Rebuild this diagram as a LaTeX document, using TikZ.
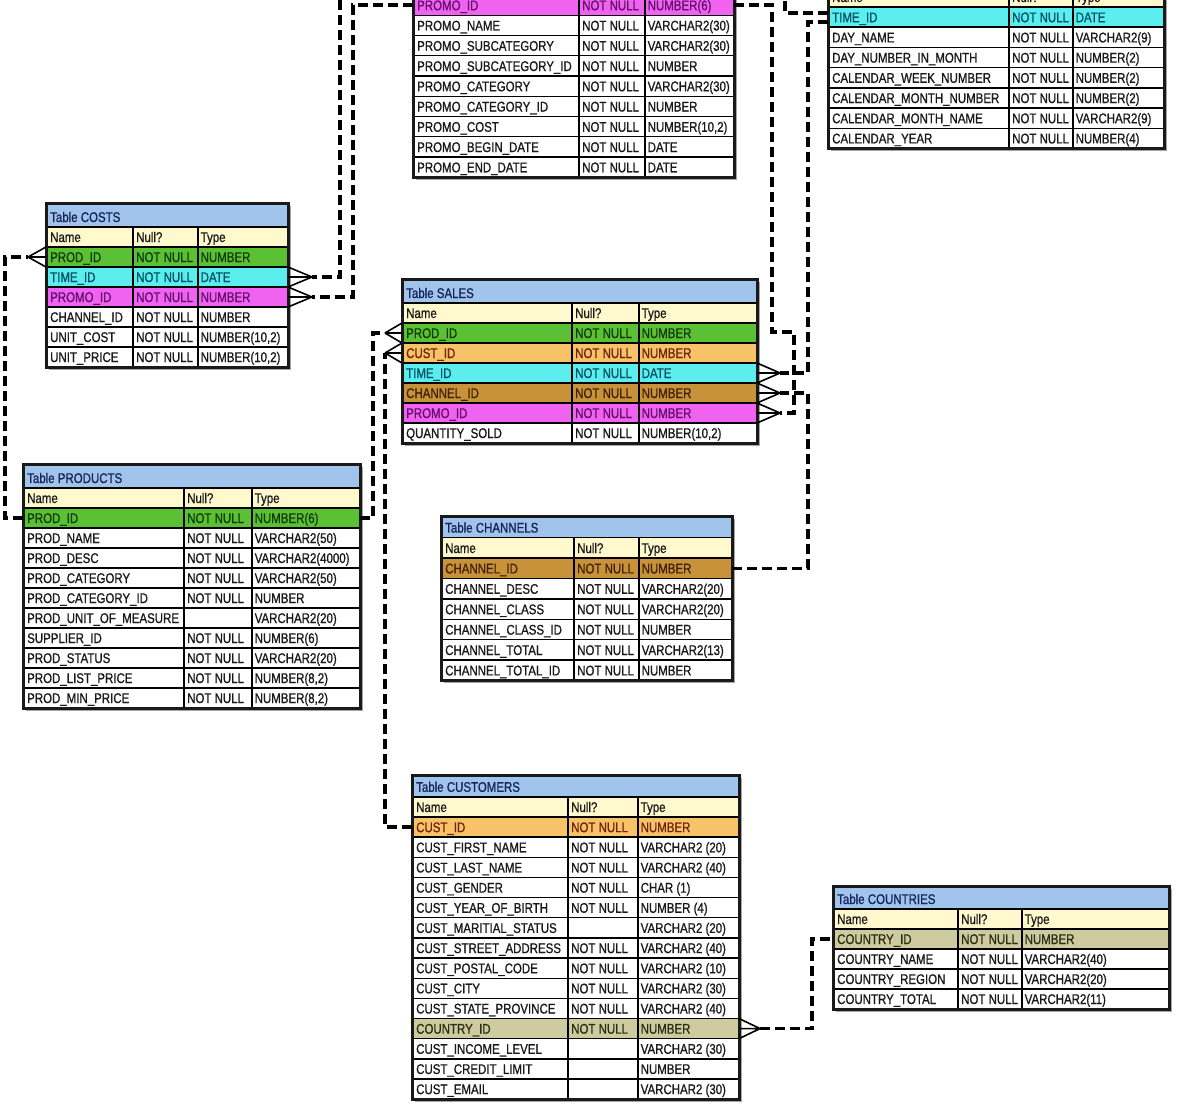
\documentclass[tikz,border=0pt]{standalone}
\usepackage{fontspec}
\setmainfont{Liberation Sans}[FakeStretch=0.82,FakeBold=0.9]
\usetikzlibrary{calc}

\definecolor{titlebg}{RGB}{160,196,236}
\definecolor{titletx}{RGB}{22,36,90}
\definecolor{headbg}{RGB}{255,249,205}
\definecolor{grnbg}{RGB}{92,192,52}
\definecolor{grntx}{RGB}{15,60,8}
\definecolor{cyanbg}{RGB}{92,238,238}
\definecolor{cyantx}{RGB}{0,80,100}
\definecolor{magbg}{RGB}{240,98,240}
\definecolor{magtx}{RGB}{100,15,110}
\definecolor{orbg}{RGB}{248,194,104}
\definecolor{ortx}{RGB}{110,35,8}
\definecolor{brbg}{RGB}{200,146,58}
\definecolor{brtx}{RGB}{65,32,5}
\definecolor{khbg}{RGB}{206,203,160}
\definecolor{khtx}{RGB}{45,45,18}
\definecolor{txt}{RGB}{25,25,25}

\tikzset{
  rowbox/.style={rectangle, draw=black, line width=1.4pt, anchor=north west, inner sep=0pt, outer sep=0pt},
  titlebox/.style={rectangle, draw=black, fill=titlebg, line width=2.2pt, anchor=north west, inner sep=0pt, outer sep=0pt},
  framebox/.style={rectangle, draw=black!90, line width=3pt, anchor=north west, inner sep=0pt, outer sep=0pt},
  shadowbox/.style={rectangle, fill=black!35, anchor=north west, inner sep=0pt, outer sep=0pt},
  celltext/.style={anchor=base west, inner sep=0pt, font=\fontsize{14}{16}\selectfont},
  titletext/.style={anchor=base west, inner sep=0pt, text=titletx, font=\fontsize{14}{16}\selectfont},
  coldiv/.style={draw=black, line width=2.2pt},
  conn/.style={draw=black, line width=3.3pt, dash pattern=on 10pt off 5pt},
  crowline/.style={draw=black, line width=1.6pt}
}

% table settings: name, x-left, col1, col2, x-right, y-top, y-first-row, row height
\newcommand\settbl[8]{%
  \def\tn{#1}\def\txl{#2}\def\tca{#3}\def\tcb{#4}\def\txr{#5}%
  \def\ttop{#6}\def\tfirst{#7}\def\trh{#8}%
  \pgfmathsetmacro\tw{#5-#2}%
  \pgfmathsetmacro\hy{#7-#8}}

% shadow behind a table: number of data rows
\newcommand\tshadow[1]{%
  \pgfmathsetmacro\ybot{\tfirst+#1*\trh}%
  \pgfmathsetmacro\tbh{\ybot-\ttop}%
  \node[shadowbox, minimum width=\tw pt, minimum height=\tbh pt] (\tn-shadow) at (\txl+3,\ttop+3) {};}

\newcommand\ttitle[1]{%
  \pgfmathsetmacro\tbth{\hy-\ttop}%
  \pgfmathsetmacro\tty{\hy-5}%
  \node[titlebox, minimum width=\tw pt, minimum height=\tbth pt] (\tn-title) at (\txl,\ttop) {};
  \node[titletext] (\tn-titletext) at (\txl+4,\tty) {#1};}

% row: index, fill, text colour, name, null, type
\newcommand\dbrow[6]{%
  \pgfmathsetmacro\ya{\tfirst+(#1-1)*\trh}%
  \pgfmathsetmacro\yt{\ya+\trh-5}%
  \node[rowbox, fill=#2, minimum width=\tw pt, minimum height=\trh pt] (\tn-r#1) at (\txl,\ya) {};
  \node[celltext, text=#3] (\tn-r#1-a) at (\txl+4,\yt) {#4};
  \node[celltext, text=#3] (\tn-r#1-b) at (\tca+3,\yt) {#5};
  \node[celltext, text=#3] (\tn-r#1-c) at (\tcb+2.5,\yt) {#6};}
\newcommand\wrow[4]{\dbrow{#1}{white}{txt}{#2}{#3}{#4}}
\newcommand\hrow{\dbrow{0}{headbg}{txt}{Name}{Null?}{Type}}

% frame: number of data rows
\newcommand\tframe[1]{%
  \pgfmathsetmacro\ybot{\tfirst+#1*\trh}%
  \pgfmathsetmacro\tbh{\ybot-\ttop}%
  \draw[coldiv] (\tca,\hy) -- (\tca,\ybot);
  \draw[coldiv] (\tcb,\hy) -- (\tcb,\ybot);
  \node[framebox, minimum width=\tw pt, minimum height=\tbh pt] (\tn) at (\txl,\ttop) {};}

\newcommand\crowfoot[3]{\draw[crowline] (#1) -- (#2.north #3) (#1) -- (#2.#3) (#1) -- (#2.south #3);}

\begin{document}
\begin{tikzpicture}[x=1pt, y=-1pt]
\useasboundingbox (0,0) rectangle (1199,1108);
\fill[white] (0,0) rectangle (1199,1108);
\clip (0,0) rectangle (1199,1108);

% ---------------- PROMOTIONS (cut at top)
\settbl{promo}{413}{579}{645}{734}{-25}{-5}{20.25}
\tshadow{9}
\dbrow{1}{magbg}{magtx}{PROMO\_ID}{NOT NULL}{NUMBER(6)}
\wrow{2}{PROMO\_NAME}{NOT NULL}{VARCHAR2(30)}
\wrow{3}{PROMO\_SUBCATEGORY}{NOT NULL}{VARCHAR2(30)}
\wrow{4}{PROMO\_SUBCATEGORY\_ID}{NOT NULL}{NUMBER}
\wrow{5}{PROMO\_CATEGORY}{NOT NULL}{VARCHAR2(30)}
\wrow{6}{PROMO\_CATEGORY\_ID}{NOT NULL}{NUMBER}
\wrow{7}{PROMO\_COST}{NOT NULL}{NUMBER(10,2)}
\wrow{8}{PROMO\_BEGIN\_DATE}{NOT NULL}{DATE}
\wrow{9}{PROMO\_END\_DATE}{NOT NULL}{DATE}
\tframe{9}

% ---------------- TIMES (cut at top)
\settbl{times}{828}{1009}{1073}{1164}{-13}{7}{20.2}
\tshadow{7}
\hrow
\dbrow{1}{cyanbg}{cyantx}{TIME\_ID}{NOT NULL}{DATE}
\wrow{2}{DAY\_NAME}{NOT NULL}{VARCHAR2(9)}
\wrow{3}{DAY\_NUMBER\_IN\_MONTH}{NOT NULL}{NUMBER(2)}
\wrow{4}{CALENDAR\_WEEK\_NUMBER}{NOT NULL}{NUMBER(2)}
\wrow{5}{CALENDAR\_MONTH\_NUMBER}{NOT NULL}{NUMBER(2)}
\wrow{6}{CALENDAR\_MONTH\_NAME}{NOT NULL}{VARCHAR2(9)}
\wrow{7}{CALENDAR\_YEAR}{NOT NULL}{NUMBER(4)}
\tframe{7}

% ---------------- COSTS
\settbl{costs}{46}{133}{198}{288}{203}{247}{20}
\tshadow{6}
\ttitle{Table COSTS}
\hrow
\dbrow{1}{grnbg}{grntx}{PROD\_ID}{NOT NULL}{NUMBER}
\dbrow{2}{cyanbg}{cyantx}{TIME\_ID}{NOT NULL}{DATE}
\dbrow{3}{magbg}{magtx}{PROMO\_ID}{NOT NULL}{NUMBER}
\wrow{4}{CHANNEL\_ID}{NOT NULL}{NUMBER}
\wrow{5}{UNIT\_COST}{NOT NULL}{NUMBER(10,2)}
\wrow{6}{UNIT\_PRICE}{NOT NULL}{NUMBER(10,2)}
\tframe{6}

% ---------------- SALES
\settbl{sales}{402}{572}{639}{757}{279}{323}{20}
\tshadow{6}
\ttitle{Table SALES}
\hrow
\dbrow{1}{grnbg}{grntx}{PROD\_ID}{NOT NULL}{NUMBER}
\dbrow{2}{orbg}{ortx}{CUST\_ID}{NOT NULL}{NUMBER}
\dbrow{3}{cyanbg}{cyantx}{TIME\_ID}{NOT NULL}{DATE}
\dbrow{4}{brbg}{brtx}{CHANNEL\_ID}{NOT NULL}{NUMBER}
\dbrow{5}{magbg}{magtx}{PROMO\_ID}{NOT NULL}{NUMBER}
\wrow{6}{QUANTITY\_SOLD}{NOT NULL}{NUMBER(10,2)}
\tframe{6}

% ---------------- PRODUCTS
\settbl{prod}{23}{184}{252}{360}{464}{508}{20}
\tshadow{10}
\ttitle{Table PRODUCTS}
\hrow
\dbrow{1}{grnbg}{grntx}{PROD\_ID}{NOT NULL}{NUMBER(6)}
\wrow{2}{PROD\_NAME}{NOT NULL}{VARCHAR2(50)}
\wrow{3}{PROD\_DESC}{NOT NULL}{VARCHAR2(4000)}
\wrow{4}{PROD\_CATEGORY}{NOT NULL}{VARCHAR2(50)}
\wrow{5}{PROD\_CATEGORY\_ID}{NOT NULL}{NUMBER}
\wrow{6}{PROD\_UNIT\_OF\_MEASURE}{}{VARCHAR2(20)}
\wrow{7}{SUPPLIER\_ID}{NOT NULL}{NUMBER(6)}
\wrow{8}{PROD\_STATUS}{NOT NULL}{VARCHAR2(20)}
\wrow{9}{PROD\_LIST\_PRICE}{NOT NULL}{NUMBER(8,2)}
\wrow{10}{PROD\_MIN\_PRICE}{NOT NULL}{NUMBER(8,2)}
\tframe{10}

% ---------------- CHANNELS
\settbl{chan}{441}{574}{639}{732}{516}{558}{20.4}
\tshadow{6}
\ttitle{Table CHANNELS}
\hrow
\dbrow{1}{brbg}{brtx}{CHANNEL\_ID}{NOT NULL}{NUMBER}
\wrow{2}{CHANNEL\_DESC}{NOT NULL}{VARCHAR2(20)}
\wrow{3}{CHANNEL\_CLASS}{NOT NULL}{VARCHAR2(20)}
\wrow{4}{CHANNEL\_CLASS\_ID}{NOT NULL}{NUMBER}
\wrow{5}{CHANNEL\_TOTAL}{NOT NULL}{VARCHAR2(13)}
\wrow{6}{CHANNEL\_TOTAL\_ID}{NOT NULL}{NUMBER}
\tframe{6}

% ---------------- CUSTOMERS
\settbl{cust}{412}{568}{638}{739}{775}{817}{20.15}
\tshadow{14}
\ttitle{Table CUSTOMERS}
\hrow
\dbrow{1}{orbg}{ortx}{CUST\_ID}{NOT NULL}{NUMBER}
\wrow{2}{CUST\_FIRST\_NAME}{NOT NULL}{VARCHAR2 (20)}
\wrow{3}{CUST\_LAST\_NAME}{NOT NULL}{VARCHAR2 (40)}
\wrow{4}{CUST\_GENDER}{NOT NULL}{CHAR (1)}
\wrow{5}{CUST\_YEAR\_OF\_BIRTH}{NOT NULL}{NUMBER (4)}
\wrow{6}{CUST\_MARITIAL\_STATUS}{}{VARCHAR2 (20)}
\wrow{7}{CUST\_STREET\_ADDRESS}{NOT NULL}{VARCHAR2 (40)}
\wrow{8}{CUST\_POSTAL\_CODE}{NOT NULL}{VARCHAR2 (10)}
\wrow{9}{CUST\_CITY}{NOT NULL}{VARCHAR2 (30)}
\wrow{10}{CUST\_STATE\_PROVINCE}{NOT NULL}{VARCHAR2 (40)}
\dbrow{11}{khbg}{khtx}{COUNTRY\_ID}{NOT NULL}{NUMBER}
\wrow{12}{CUST\_INCOME\_LEVEL}{}{VARCHAR2 (30)}
\wrow{13}{CUST\_CREDIT\_LIMIT}{}{NUMBER}
\wrow{14}{CUST\_EMAIL}{}{VARCHAR2 (30)}
\tframe{14}

% ---------------- COUNTRIES
\settbl{ctry}{833}{958}{1022}{1169}{886}{929}{20}
\tshadow{4}
\ttitle{Table COUNTRIES}
\hrow
\dbrow{1}{khbg}{khtx}{COUNTRY\_ID}{NOT NULL}{NUMBER}
\wrow{2}{COUNTRY\_NAME}{NOT NULL}{VARCHAR2(40)}
\wrow{3}{COUNTRY\_REGION}{NOT NULL}{VARCHAR2(20)}
\wrow{4}{COUNTRY\_TOTAL}{NOT NULL}{VARCHAR2(11)}
\tframe{4}

% ---------------- crow's-foot points
\coordinate (cAc) at ([xshift=-18pt]costs-r1.west);
\coordinate (cTc) at ([xshift=24pt]costs-r2.east);
\coordinate (cPc) at ([xshift=24pt]costs-r3.east);
\coordinate (sAc) at ([xshift=-17pt]sales-r1.west);
\coordinate (sBc) at ([xshift=-17pt]sales-r2.west);
\coordinate (sTc) at ([xshift=23pt]sales-r3.east);
\coordinate (sCc) at ([xshift=23pt]sales-r4.east);
\coordinate (sPc) at ([xshift=23pt]sales-r5.east);
\coordinate (cKc) at ([xshift=21pt]cust-r11.east);

\crowfoot{cAc}{costs-r1}{west}
\crowfoot{cTc}{costs-r2}{east}
\crowfoot{cPc}{costs-r3}{east}
\crowfoot{sAc}{sales-r1}{west}
\crowfoot{sBc}{sales-r2}{west}
\crowfoot{sTc}{sales-r3}{east}
\crowfoot{sCc}{sales-r4}{east}
\crowfoot{sPc}{sales-r5}{east}
\crowfoot{cKc}{cust-r11}{east}

% ---------------- connectors
% PRODUCTS.PROD_ID -> COSTS.PROD_ID
\draw[conn] (prod-r1.west) -- ++(-18,0) |- (cAc);
% PRODUCTS.PROD_ID -> SALES.PROD_ID
\draw[conn] (prod-r1.east) -| ([xshift=-12pt]sAc) -- (sAc);
% CUSTOMERS.CUST_ID -> SALES.CUST_ID
\draw[conn] (cust-r1.west) -| (sBc);
% CUSTOMERS.COUNTRY_ID -> COUNTRIES.COUNTRY_ID
\draw[conn] (cKc) -- ++(52,0) |- (ctry-r1.west);
% CHANNELS.CHANNEL_ID -> SALES.CHANNEL_ID
\draw[conn] (chan-r1.east) -| ([xshift=28pt]sCc) -- (sCc);
% TIMES.TIME_ID -> SALES.TIME_ID
\draw[conn] ([yshift=-5pt]times-r1.west) -| ([xshift=28pt]sTc) -- (sTc);
% PROMOTIONS.PROMO_ID -> SALES.PROMO_ID
\draw[conn] (promo-r1.east) -| ++(38,327) -| ([xshift=14pt]sPc) -- (sPc);
% PROMOTIONS.PROMO_ID -> COSTS.PROMO_ID
\draw[conn] (promo-r1.west) -| ([xshift=41pt]cPc) -- (cPc);
% TIMES.TIME_ID -> COSTS.TIME_ID (runs above the visible area)
\draw[conn] ([yshift=4pt]times-r1.west) -- ++(-43,0) -- ++(0,-40) -| ([xshift=28pt]cTc) -- (cTc);
\end{tikzpicture}
\end{document}
